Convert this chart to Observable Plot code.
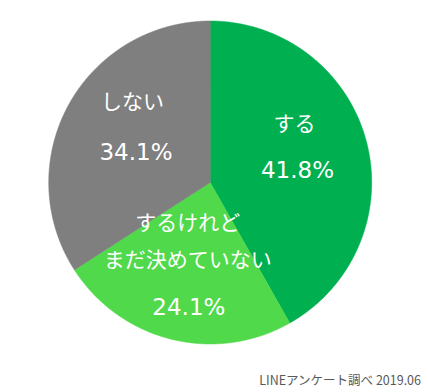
<!DOCTYPE html>
<html><head><meta charset="utf-8">
<script src="https://cdn.jsdelivr.net/npm/d3@7"></script>
<script src="https://cdn.jsdelivr.net/npm/@observablehq/plot@0.6"></script>
<style>
body{margin:0;background:#fff;}
#cap{font-family:"Noto Sans CJK JP";font-size:12.5px;color:#595959;text-align:right;padding-right:7px;line-height:16px;margin-top:9.5px;}
</style></head><body>
<div id="chart"></div>
<div id="cap"></div>
<script>
const categories = ["する", "するけれど\nまだ決めていない", "しない"];
const values = [41.8, 24.1, 34.1];
const valueLabels = ["41.8%", "24.1%", "34.1%"];
const colors = ["#00b050", "#50d94a", "#7f7f7f"];
const caption = "LINEアンケート調べ 2019.06";

const total = d3.sum(values);
let acc = 0;
const slices = values.map((v, i) => {
  const a0 = acc / total * 2 * Math.PI; acc += v;
  const a1 = acc / total * 2 * Math.PI;
  return {i, name: categories[i], label: valueLabels[i], color: colors[i], a0, a1, mid: (a0 + a1) / 2};
});

// polygon outline of each wedge (geometry derived from the values)
function wedge(s) {
  const pts = [{x: 0, y: 0}];
  const n = Math.max(2, Math.ceil((s.a1 - s.a0) / (Math.PI / 720)));
  for (let k = 0; k <= n; k++) {
    const a = s.a0 + (s.a1 - s.a0) * k / n;
    pts.push({x: Math.sin(a), y: Math.cos(a)});
  }
  pts.push({x: 0, y: 0});
  return pts;
}

const rLab = 0.57;
const lx = d => rLab * Math.sin(d.mid);
const ly = d => rLab * Math.cos(d.mid);

const nameOff = [[-4.7, -40], [-0.5, -35.4], [3.1, -41.6]];
const valOff = [[-1.7, 11.2], [0.7, 35.3], [6.6, 14.6]];

const marks = [];
slices.forEach(s => {
  marks.push(Plot.line(wedge(s), {x: "x", y: "y", fill: s.color, stroke: s.color, strokeWidth: 0.5}));
});
slices.forEach((s, i) => {
  marks.push(Plot.text([s], {x: lx, y: ly, text: "name", fill: "white", fontSize: 21,
    fontFamily: "Noto Sans CJK JP", lineHeight: 1.786, dx: nameOff[i][0], dy: nameOff[i][1]}));
  marks.push(Plot.text([s], {x: lx, y: ly, text: "label", fill: "white", fontSize: 23,
    fontFamily: "DejaVu Sans", dx: valOff[i][0], dy: valOff[i][1]}));
});

const chart = Plot.plot({
  width: 428, height: 362,
  marginLeft: 48.2, marginRight: 56.8, marginTop: 20.5, marginBottom: 18.5,
  x: {domain: [-1, 1], axis: null},
  y: {domain: [-1, 1], axis: null},
  marks
});
document.getElementById("chart").append(chart);
document.getElementById("cap").textContent = caption;
</script>
</body></html>
